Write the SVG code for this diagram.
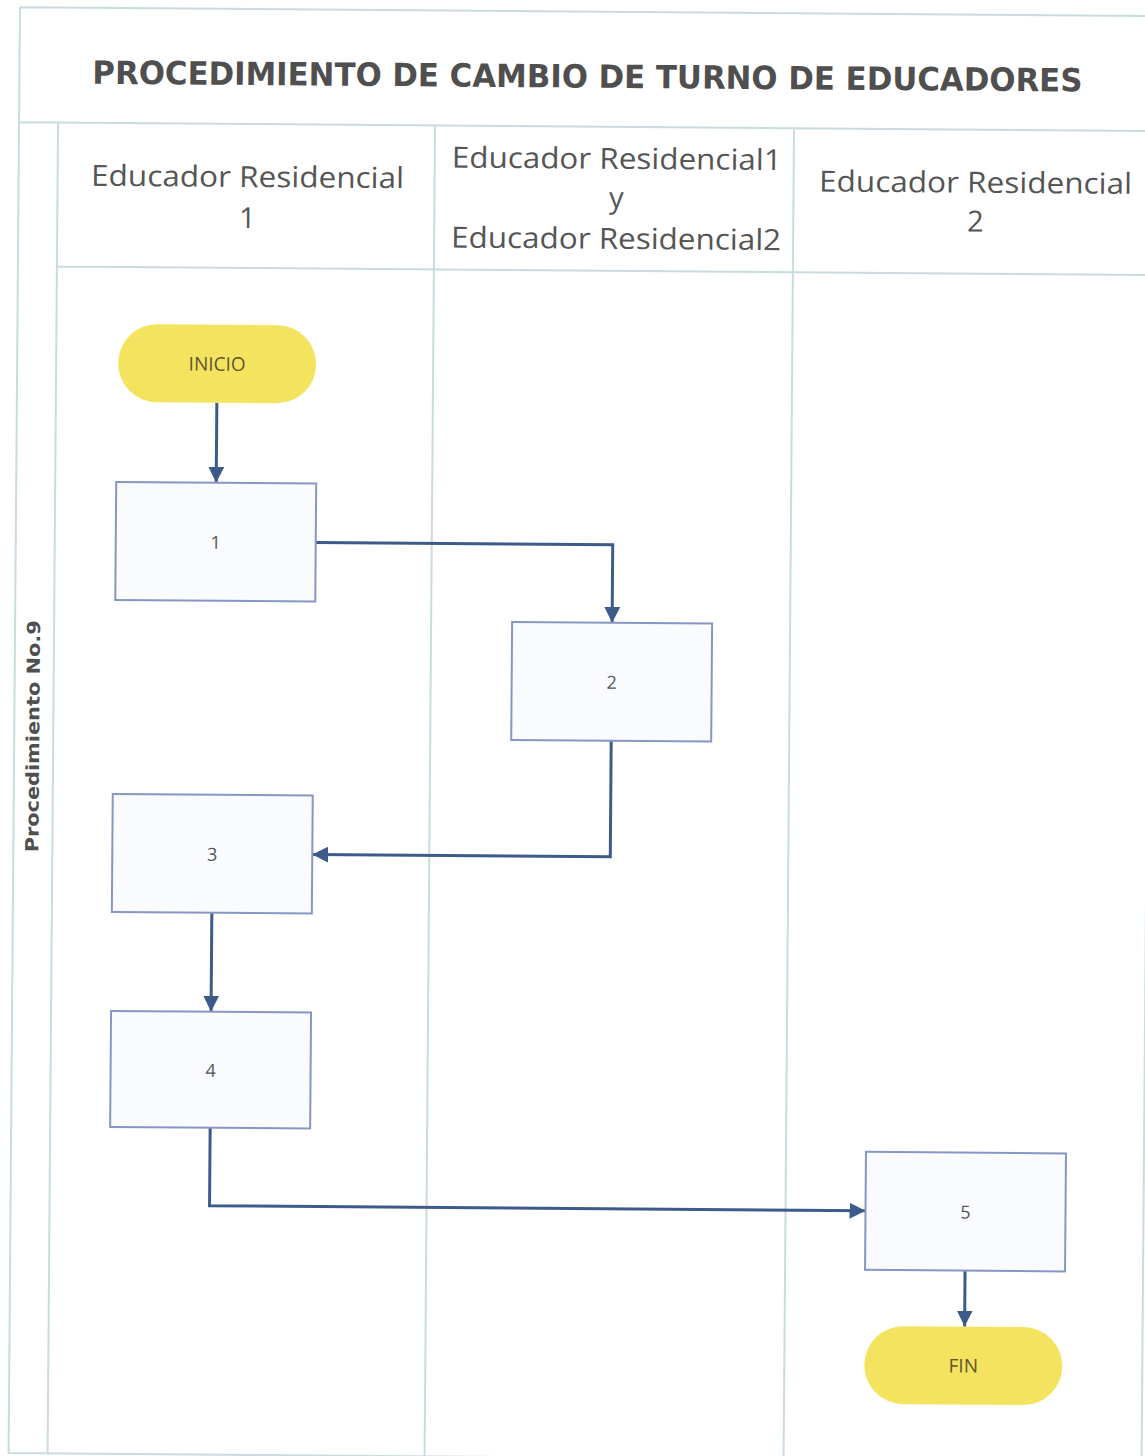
<svg xmlns="http://www.w3.org/2000/svg" width="1145" height="1456" viewBox="0 0 1145 1456">
  <style>
    .frame { fill: none; stroke: #c9dbde; stroke-width: 2; }
    .title { font-family: "DejaVu Sans", Verdana, sans-serif; font-weight: bold; font-size: 32px; fill: #4f4f4f; }
    .lane { font-family: "Open Sans", "Noto Sans", sans-serif; font-size: 29px; fill: #555; text-anchor: middle; }
    .pool { font-family: "DejaVu Sans", Verdana, sans-serif; font-weight: bold; font-size: 18px; fill: #4f4f4f; text-anchor: middle; }
    .box { fill: #f9fbfe; stroke: #8796c2; stroke-width: 2; }
    .term { fill: #f4e35e; stroke: none; }
    .lbl { font-family: "Open Sans", "Noto Sans", sans-serif; font-size: 18px; fill: #555; text-anchor: middle; dominant-baseline: central; }
    .tlbl { font-family: "Open Sans", "Noto Sans", sans-serif; font-size: 19px; fill: #62572f; text-anchor: middle; dominant-baseline: central; }
    .edge { fill: none; stroke: #3d5b8a; stroke-width: 3; }
  </style>
  <defs>
    <marker id="arrow" viewBox="0 0 16 16" refX="16" refY="8" markerWidth="16" markerHeight="16" markerUnits="userSpaceOnUse" orient="auto">
      <path d="M0,0 L16,8 L0,16 Z" fill="#3d5b8a"/>
    </marker>
  </defs>
  <rect width="1145" height="1456" fill="#ffffff"/>
  <g transform="rotate(0.45 0 0)">
    <!-- pool frame -->
    <g id="pool">
      <path class="frame" d="M20,7 H1160 M20,7 V1453 H1160 M20,122 H1160 M59,122 V1453 M59,266 H1160 M436,122 V1453 M795,122 V1453 M1153,122 V1453"/>
      <text class="title" x="588" y="83" text-anchor="middle" textLength="990" lengthAdjust="spacingAndGlyphs">PROCEDIMIENTO DE CAMBIO DE TURNO DE EDUCADORES</text>
      <text class="pool" transform="translate(45 736) rotate(-90)" textLength="232" lengthAdjust="spacingAndGlyphs">Procedimiento No.9</text>
    </g>
    <!-- lane headers -->
    <g id="lane1">
      <text class="lane" x="249" y="185" textLength="313" lengthAdjust="spacingAndGlyphs">Educador Residencial</text>
      <text class="lane" x="249" y="226">1</text>
    </g>
    <g id="lane2">
      <text class="lane" x="618" y="164" textLength="330" lengthAdjust="spacingAndGlyphs">Educador Residencial1</text>
      <text class="lane" x="618" y="203">y</text>
      <text class="lane" x="618" y="244" textLength="330" lengthAdjust="spacingAndGlyphs">Educador Residencial2</text>
    </g>
    <g id="lane3">
      <text class="lane" x="977" y="185" textLength="313" lengthAdjust="spacingAndGlyphs">Educador Residencial</text>
      <text class="lane" x="977" y="224">2</text>
    </g>

    <!-- connectors -->
    <g id="connectors">
      <path class="edge" d="M220,401 V481" marker-end="url(#arrow)"/>
      <path class="edge" d="M320,540 H617 V618" marker-end="url(#arrow)"/>
      <path class="edge" d="M617,736 V852 H319" marker-end="url(#arrow)"/>
      <path class="edge" d="M219,911 V1010" marker-end="url(#arrow)"/>
      <path class="edge" d="M219,1126 V1204 H875" marker-end="url(#arrow)"/>
      <path class="edge" d="M975,1263 V1319" marker-end="url(#arrow)"/>
    </g>

    <!-- nodes -->
    <g id="inicio">
      <rect class="term" x="121" y="323" width="198" height="78" rx="39" ry="39"/>
      <text class="tlbl" x="220" y="362">INICIO</text>
    </g>
    <g id="step1">
      <rect class="box" x="120" y="481" width="200" height="118"/>
      <text class="lbl" x="220" y="540">1</text>
    </g>
    <g id="step2">
      <rect class="box" x="517" y="618" width="200" height="118"/>
      <text class="lbl" x="617" y="677">2</text>
    </g>
    <g id="step3">
      <rect class="box" x="119" y="793" width="200" height="118"/>
      <text class="lbl" x="219" y="852">3</text>
    </g>
    <g id="step4">
      <rect class="box" x="119" y="1010" width="200" height="116"/>
      <text class="lbl" x="219" y="1068">4</text>
    </g>
    <g id="step5">
      <rect class="box" x="875" y="1145" width="200" height="118"/>
      <text class="lbl" x="975" y="1204">5</text>
    </g>
    <g id="fin">
      <rect class="term" x="875" y="1319" width="198" height="78" rx="39" ry="39"/>
      <text class="tlbl" x="974" y="1358">FIN</text>
    </g>
  </g>
</svg>
